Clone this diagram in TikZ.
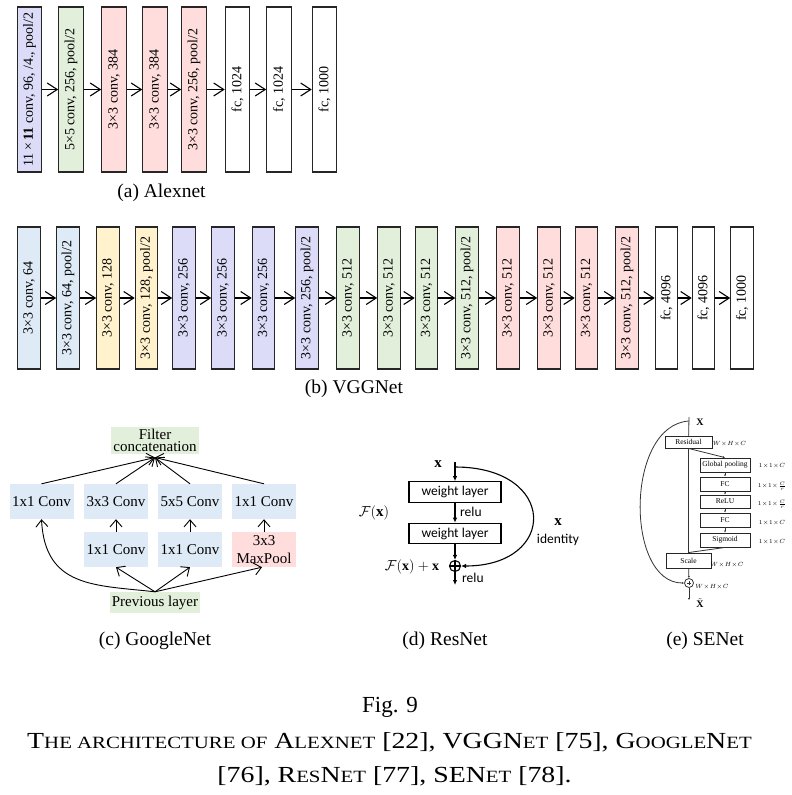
\documentclass[tikz,border=0pt]{standalone}
\usepackage{fontspec}
\usepackage{graphicx}
\setmainfont{Liberation Serif}
\newfontfamily\carlito{Carlito}
\usetikzlibrary{arrows.meta}
\definecolor{lav}{HTML}{DCDCF8}
\definecolor{grn}{HTML}{E2EFDA}
\definecolor{pnk}{HTML}{FFDDDD}
\definecolor{blu}{HTML}{DEEBF7}
\definecolor{ylw}{HTML}{FFF2CC}
\definecolor{gblu}{HTML}{DEEAF6}
\newcommand\fsc[1]{{\fontsize{17.2}{17.2}\selectfont #1}}
\begin{document}
\begin{tikzpicture}[x=1pt,y=-1pt]
\tikzset{
  layer/.style={draw=black!85, line width=1.1pt, rotate=90, inner sep=0pt, font=\fontsize{14}{14}\selectfont},
  alexbox/.style={layer, minimum width=165pt, minimum height=24.5pt},
  vggbox/.style={layer, minimum width=142pt, minimum height=22.5pt},
  chev/.style={-{Straight Barb[length=10pt,width=13pt]}, line width=1.1pt},
  subcap/.style={anchor=base, font=\fontsize{19.5}{20}\selectfont},
  gbox/.style={inner sep=0pt, minimum width=64pt, minimum height=35pt, font=\fontsize{15}{15}\selectfont, align=center},
  garrow/.style={-{Straight Barb[length=7pt,width=12pt]}, line width=0.9pt},
  wlayer/.style={draw=black, line width=1.2pt, minimum width=92pt, minimum height=20.5pt, inner sep=0pt, font=\carlito\fontsize{13.5}{14}\selectfont},
  rarrow/.style={-{Latex[length=5pt,width=4.5pt]}, line width=1.1pt},
  rlab/.style={font=\carlito\fontsize{13.5}{14}\selectfont},
  sebox/.style={draw=black!85, line width=0.9pt, inner sep=0pt, minimum width=50pt, minimum height=14pt, font=\fontsize{7.5}{8}\selectfont},
  seline/.style={line width=0.8pt, draw=black!80},
  searrow/.style={seline, -{Latex[length=2pt,width=2pt]}},
  selab/.style={font=\fontsize{6}{6}\selectfont, inner sep=0pt},
  capfont/.style={anchor=base, font=\fontsize{23}{27}\selectfont},
}
\useasboundingbox (0,0) rectangle (792,795);

% ---------------- AlexNet
\node[alexbox, fill=lav] (a1) at (29.5,89.5) {11\,×\,\textbf{11} conv, 96, /4., pool/2};
\node[alexbox, fill=grn] (a2) at (71,89.5) {5×5 conv, 256, pool/2};
\node[alexbox, fill=pnk] (a3) at (114,89.5) {3×3 conv, 384};
\node[alexbox, fill=pnk] (a4) at (155,89.5) {3×3 conv, 384};
\node[alexbox, fill=pnk] (a5) at (194,89.5) {3×3 conv, 256, pool/2};
\node[alexbox, fill=white] (a6) at (237.5,89.5) {fc, 1024};
\node[alexbox, fill=white] (a7) at (279,89.5) {fc, 1024};
\node[alexbox, fill=white] (a8) at (324.5,89.5) {fc, 1000};
\foreach \i/\j in {1/2,2/3,3/4,4/5,5/6,6/7,7/8} \draw[chev] (a\i) -- (a\j);
\node[subcap] (capa) at (161.5,197) {(a) Alexnet};

% ---------------- VGGNet
\foreach \n/\x/\c/\t in {
  1/29/blu/{3×3 conv, 64},
  2/68/blu/{3×3 conv, 64, pool/2},
  3/108/ylw/{3×3 conv, 128},
  4/146.5/ylw/{3×3 conv, 128, pool/2},
  5/184/lav/{3×3 conv, 256},
  6/223/lav/{3×3 conv, 256},
  7/263.5/lav/{3×3 conv, 256},
  8/307/lav/{3×3 conv, 256, pool/2},
  9/348/grn/{3×3 conv, 512},
  10/389/grn/{3×3 conv, 512},
  11/426.5/grn/{3×3 conv, 512},
  12/467/grn/{3×3 conv, 512, pool/2},
  13/508/pnk/{3×3 conv, 512},
  14/549/pnk/{3×3 conv, 512},
  15/586.5/pnk/{3×3 conv, 512},
  16/627/pnk/{3×3 conv, 512, pool/2},
  17/666.5/white/{fc, 4096},
  18/703.5/white/{fc, 4096},
  19/742/white/{fc, 1000}}
  \node[vggbox, fill=\c] (v\n) at (\x,298) {\t};
\foreach \i [evaluate=\i as \j using int(\i+1)] in {1,...,18} \draw[chev] (v\i) -- (v\j);
\node[subcap] (capb) at (354,393) {(b) VGGNet};

% ---------------- GoogleNet
\node[gbox, fill=grn, minimum width=88pt, minimum height=27pt, font=\fontsize{15}{12}\selectfont] (gfc) at (155,440.5) {Filter\\concatenation};
\coordinate (gin) at (155,457.5);
\node[gbox, fill=gblu] (g1) at (41.5,501.5) {1x1 Conv};
\node[gbox, fill=gblu] (g2) at (116,501.5) {3x3 Conv};
\node[gbox, fill=gblu] (g3) at (190,501.5) {5x5 Conv};
\node[gbox, fill=gblu] (g4) at (264,501.5) {1x1 Conv};
\node[gbox, fill=gblu] (g5) at (116,549.5) {1x1 Conv};
\node[gbox, fill=gblu] (g6) at (190,549.5) {1x1 Conv};
\node[gbox, fill=pnk, font=\fontsize{15}{18}\selectfont] (g7) at (264,549.5) {3x3\\MaxPool};
\node[gbox, fill=grn, minimum width=90pt, minimum height=21pt] (gprev) at (155,602.5) {Previous layer};
\foreach \k in {1,2,3,4} \draw[garrow] (g\k.north) -- (gin);
\draw[garrow] (g5) -- (g2);
\draw[garrow] (g6) -- (g3);
\draw[garrow] (g7) -- (g4);
\draw[garrow] (gprev.north) -- (g5.south);
\draw[garrow] (gprev.north) -- (g6.south);
\draw[garrow] (gprev.north) -- ([xshift=-2pt]g7.south);
\draw[garrow] (gprev.north) .. controls (95,585) and (45,588) .. (g1.south);
\node[subcap] (capc) at (155,645) {(c) GoogleNet};

% ---------------- ResNet
\coordinate (rtop) at (455,462);
\coordinate (rsplit) at (455,467);
\node[font=\fontsize{15}{15}\selectfont] (rx) at (438,464) {$\mathbf{x}$};
\node[wlayer] (w1) at (455,492) {weight layer};
\node[wlayer] (w2) at (455,533.5) {weight layer};
\node[circle, draw, line width=1.1pt, minimum size=11pt, inner sep=0pt,
  path picture={\draw[line width=1.1pt] (path picture bounding box.north) -- (path picture bounding box.south) (path picture bounding box.west) -- (path picture bounding box.east);}] (rplus) at (455,566) {};
\coordinate (rout) at (455,585);
\draw[rarrow] (rtop) -- (w1);
\draw[rarrow] (w1) -- (w2);
\draw[rarrow] (w2) -- (rplus);
\draw[rarrow] (rplus) -- (rout);
\draw[rarrow] (rsplit) .. controls (558,467) and (558,566) .. (rplus.east);
\node[rlab, anchor=west, inner sep=0pt] (rrelu1) at (460,512) {relu};
\node[rlab, anchor=west, inner sep=0pt] (rrelu2) at (462,578) {relu};
\node[font=\fontsize{15}{15}\selectfont] (rfx) at (374,513) {$\mathcal{F}(\mathbf{x})$};
\node[font=\fontsize{14}{14}\selectfont] (rfxx) at (412,567) {$\mathcal{F}(\mathbf{x})+\mathbf{x}$};
\node[font=\fontsize{15}{15}\selectfont] (rxid) at (558,522) {$\mathbf{x}$};
\node[rlab] (rid) at (558,540) {identity};
\node[subcap] (capd) at (445,645) {(d) ResNet};

% ---------------- SENet
\coordinate (stop) at (689,417);
\coordinate (scurve) at (689,421);
\coordinate (sbot) at (689,600);
\node[font=\fontsize{10}{10}\selectfont\bfseries] (sx) at (700,422) {X};
\node[sebox, minimum width=47pt, minimum height=12pt] (sres) at (688.5,442) {Residual};
\node[sebox] (sgp) at (725,465) {Global pooling};
\node[sebox] (sfc1) at (725,484) {FC};
\node[sebox, minimum height=13pt] (srelu) at (725,501.5) {ReLU};
\node[sebox] (sfc2) at (725,520) {FC};
\node[sebox] (ssig) at (725,540) {Sigmoid};
\node[sebox, minimum width=45pt, minimum height=15pt] (sscale) at (688.5,560.5) {Scale};
\node[circle, draw=black!80, line width=0.8pt, minimum size=9pt, inner sep=0pt,
  path picture={\draw[line width=0.6pt] ([yshift=-2pt]path picture bounding box.center) -- ([yshift=2pt]path picture bounding box.center) ([xshift=-2pt]path picture bounding box.center) -- ([xshift=2pt]path picture bounding box.center);}] (splus) at (689,583) {};
\node[font=\fontsize{10}{10}\selectfont, inner sep=0pt] (sxt) at (700,603) {$\tilde{\mathbf{X}}$};
\draw[seline] (stop) -- (sres);
\draw[seline] (sres) -- (sscale);
\draw[searrow] (sres.south) -- (sgp.north);
\draw[searrow] (sgp) -- (sfc1);
\draw[searrow] (sfc1) -- (srelu);
\draw[searrow] (srelu) -- (sfc2);
\draw[searrow] (sfc2) -- (ssig);
\draw[seline] (ssig.south) -- (sscale.north);
\draw[searrow] (sscale) -- (splus);
\draw[searrow] (splus) -- (sbot);
\draw[searrow] (scurve) .. controls (625,425) and (625,583) .. (splus.west);
\node[selab] (l1) at (729.5,444) {$W\!\times\! H\!\times\! C$};
\node[selab] (l2) at (772,466) {$1\!\times\!1\!\times\! C$};
\node[selab] (l3) at (772,486) {$1\!\times\!1\!\times\!\frac{C}{r}$};
\node[selab] (l4) at (772,504) {$1\!\times\!1\!\times\!\frac{C}{r}$};
\node[selab] (l5) at (772,523) {$1\!\times\!1\!\times\! C$};
\node[selab] (l6) at (772,542) {$1\!\times\!1\!\times\! C$};
\node[selab] (l7) at (727,565) {$W\!\times\! H\!\times\! C$};
\node[selab] (l8) at (712,587) {$W\!\times\! H\!\times\! C$};
\node[subcap] (cape) at (705,645) {(e) SENet};

% ---------------- Caption
\node[capfont] (fig) at (390,712) {Fig. 9};
\node[capfont] (cap1) at (389.5,748) {\scalebox{1.21}[1]{T\fsc{HE ARCHITECTURE OF} A\fsc{LEXNET} [22], VGGN\fsc{ET} [75], G\fsc{OOGLE}N\fsc{ET}}};
\node[capfont] (cap2) at (394.5,782) {\scalebox{1.21}[1]{[76], R\fsc{ES}N\fsc{ET} [77], SEN\fsc{ET} [78].}};
\end{tikzpicture}
\end{document}
